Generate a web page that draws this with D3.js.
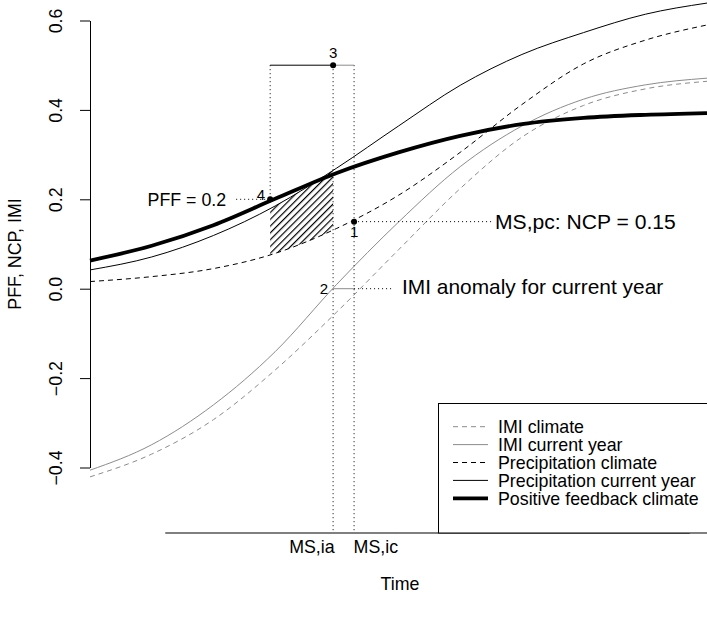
<!DOCTYPE html>
<html>
<head>
<meta charset="utf-8">
<script src="https://cdn.jsdelivr.net/npm/d3@7"></script>
<style>
  html, body { margin: 0; padding: 0; background: #fff; }
  svg { display: block; font-family: "Liberation Sans", Arial, Helvetica, sans-serif; }
</style>
</head>
<body>
<svg id="chart" width="707" height="621"></svg>
<script>
// ---------------- data ----------------
const time = [0, 10, 20, 30, 40, 50, 60, 70, 80, 90, 100];
const imiClimate    = [-0.421, -0.370, -0.293, -0.182, -0.052, 0.087, 0.224, 0.339, 0.410, 0.447, 0.464];
const imiCurrent    = [-0.406, -0.349, -0.260, -0.141, 0.010, 0.149, 0.273, 0.364, 0.424, 0.456, 0.471];
const precipClimate = [0.016, 0.027, 0.045, 0.079, 0.135, 0.209, 0.305, 0.412, 0.503, 0.556, 0.590];
const precipCurrent = [0.042, 0.071, 0.119, 0.185, 0.270, 0.364, 0.455, 0.524, 0.573, 0.614, 0.639];
const pffClimate    = [0.063, 0.096, 0.142, 0.201, 0.259, 0.305, 0.342, 0.368, 0.382, 0.389, 0.393];

const yTicks = [-0.4, -0.2, 0.0, 0.2, 0.4, 0.6];
const xTickTimes = [39.4, 42.8];          // MS,ia and MS,ic
const xTickLabels = ["MS,ia", "MS,ic"];
const xAxisExtent = [12.2, 97.2];

const tPFF = 29.2;       // point 4
const pffValue = 0.2;
const ncpValue = 0.15;   // point 1
const imiAnomaly = 0.0;  // point 2
const topValue = 0.5;    // point 3

const legendLabels = ["IMI climate", "IMI current year", "Precipitation climate",
                      "Precipitation current year", "Positive feedback climate"];

// ---------------- styles ----------------
const GRAY = "#8c8c8c";
const series = [
  { name: legendLabels[0], values: imiClimate,    color: GRAY,   width: 1,   dash: "5,4" },
  { name: legendLabels[1], values: imiCurrent,    color: GRAY,   width: 1,   dash: null },
  { name: legendLabels[2], values: precipClimate, color: "#000", width: 1,   dash: "5,4" },
  { name: legendLabels[3], values: precipCurrent, color: "#000", width: 1,   dash: null },
  { name: legendLabels[4], values: pffClimate,    color: "#000", width: 3.8, dash: null }
];
const FS = 17.8;

// ---------------- scales ----------------
const svg = d3.select("#chart");
const x = d3.scaleLinear().domain([0, 100]).range([90, 707]);
const y = d3.scaleLinear().domain([-0.4, 0.6]).range([467.5, 20.5]);

const defs = svg.append("defs");
const pat = defs.append("pattern")
  .attr("id", "hatch").attr("patternUnits", "userSpaceOnUse")
  .attr("width", 4.8).attr("height", 4.8)
  .attr("patternTransform", "rotate(45)");
pat.append("line").attr("x1", 0.6).attr("y1", 0).attr("x2", 0.6).attr("y2", 4.8)
  .attr("stroke", "#000").attr("stroke-width", 1.2);
defs.append("clipPath").attr("id", "hatchClip").append("rect")
  .attr("x", x(tPFF)).attr("y", 0)
  .attr("width", x(xTickTimes[0]) - x(tPFF)).attr("height", 621);

const curve = d3.curveMonotoneX;

// ---------------- hatched area ----------------
const area = d3.area()
  .x((d, i) => x(time[i]))
  .y0((d, i) => y(precipClimate[i]))
  .y1((d, i) => y(precipCurrent[i]))
  .curve(curve);
svg.append("path").datum(time)
  .attr("d", area)
  .attr("fill", "url(#hatch)")
  .attr("clip-path", "url(#hatchClip)");

// ---------------- curves ----------------
const line = d3.line()
  .x((d, i) => x(time[i]))
  .y(d => y(d))
  .curve(curve);
series.forEach(s => {
  svg.append("path").datum(s.values)
    .attr("d", line)
    .attr("fill", "none")
    .attr("stroke", s.color)
    .attr("stroke-width", s.width)
    .attr("stroke-dasharray", s.dash);
});

// ---------------- y axis ----------------
const yAxis = d3.axisLeft(y).tickValues(yTicks).tickFormat(d3.format(".1f"))
  .tickSize(10).tickSizeOuter(0);
const gy = svg.append("g").attr("transform", "translate(90,0)").call(yAxis);
gy.select(".domain").attr("stroke", "#000");
gy.selectAll(".tick line").attr("stroke", "#000");
gy.selectAll(".tick text")
  .attr("x", 0).attr("dy", 0)
  .attr("text-anchor", "middle")
  .attr("transform", "translate(-28,0) rotate(-90)")
  .attr("font-size", FS).attr("fill", "#000")
  .attr("font-family", "Liberation Sans, Arial, sans-serif");

svg.append("text")
  .attr("transform", "translate(21,254) rotate(-90)")
  .attr("text-anchor", "middle").attr("font-size", FS)
  .text("PFF, NCP, IMI");

// ---------------- x axis ----------------
const xAxis = d3.axisBottom(x).tickValues(xTickTimes)
  .tickFormat((d, i) => xTickLabels[i]).tickSize(0).tickSizeOuter(0);
const gx = svg.append("g").attr("transform", "translate(0,533)").call(xAxis);
gx.select(".domain").remove();
gx.selectAll(".tick text")
  .attr("y", 20).attr("dy", 0)
  .attr("dx", (d, i) => i === 0 ? 1 : -1)
  .attr("text-anchor", (d, i) => i === 0 ? "end" : "start")
  .attr("font-size", FS).attr("fill", "#000")
  .attr("font-family", "Liberation Sans, Arial, sans-serif");
svg.append("line")
  .attr("x1", x(xAxisExtent[0])).attr("x2", x(xAxisExtent[1]))
  .attr("y1", 533).attr("y2", 533)
  .attr("stroke", "#000").attr("stroke-width", 1);
svg.append("text").attr("x", 400).attr("y", 590)
  .attr("text-anchor", "middle").attr("font-size", FS).text("Time");

// ---------------- annotations ----------------
const dotted = (x1, y1, x2, y2, color) => svg.append("line")
  .attr("x1", x1).attr("y1", y1).attr("x2", x2).attr("y2", y2)
  .attr("stroke", color || "#000").attr("stroke-width", 1)
  .attr("stroke-dasharray", "1,3");
const solid = (x1, y1, x2, y2, color) => svg.append("line")
  .attr("x1", x1).attr("y1", y1).attr("x2", x2).attr("y2", y2)
  .attr("stroke", color).attr("stroke-width", 1);

const xia = x(xTickTimes[0]), xic = x(xTickTimes[1]), x4 = x(tPFF);

dotted(x4, y(topValue), x4, y(pffValue));
dotted(xia, y(topValue), xia, 533);
dotted(xic, y(topValue), xic, 533);
solid(x4, y(topValue), xia, y(topValue), "#000");
solid(xia, y(topValue), xic, y(topValue), GRAY);
dotted(x4 - 34, y(pffValue), x4, y(pffValue));
dotted(xic, y(ncpValue), 493, y(ncpValue));
solid(xia, y(imiAnomaly), xic, y(imiAnomaly), GRAY);
dotted(xic, y(imiAnomaly), 393, y(imiAnomaly));

[[x4, y(pffValue)], [xia, y(topValue)], [xic, y(ncpValue)]].forEach(p => {
  svg.append("circle").attr("cx", p[0]).attr("cy", p[1]).attr("r", 3).attr("fill", "#000");
});

const num = (tx, ty, s, anchor) => svg.append("text").attr("x", tx).attr("y", ty)
  .attr("text-anchor", anchor).attr("font-size", 15).text(s);
num(xic, y(ncpValue) + 15, "1", "middle");
num(xia - 5, y(imiAnomaly) + 5.5, "2", "end");
num(xia, y(topValue) - 7, "3", "middle");
num(x4 - 5, y(pffValue) + 1, "4", "end");

svg.append("text").attr("x", x4 - 44).attr("y", y(pffValue) + 6.3)
  .attr("text-anchor", "end").attr("font-size", FS).text("PFF = 0.2");
svg.append("text").attr("x", 495).attr("y", y(ncpValue) + 7.5)
  .attr("font-size", 21.1).text("MS,pc: NCP = 0.15");
svg.append("text").attr("x", 402).attr("y", y(imiAnomaly) + 5.5)
  .attr("font-size", 20.9).text("IMI anomaly for current year");

// ---------------- legend ----------------
const lg = svg.append("g");
lg.append("rect").attr("x", 438.5).attr("y", 403.5).attr("width", 300).attr("height", 129.5)
  .attr("fill", "#fff").attr("stroke", "#000").attr("stroke-width", 1);
series.forEach((s, i) => {
  const cy = 426.7 + i * 17.9;
  lg.append("line").attr("x1", 453).attr("x2", 488).attr("y1", cy).attr("y2", cy)
    .attr("stroke", s.color).attr("stroke-width", s.width)
    .attr("stroke-dasharray", s.dash);
  lg.append("text").attr("x", 498).attr("y", cy + 6.3)
    .attr("font-size", FS).text(s.name);
});
</script>
</body>
</html>
